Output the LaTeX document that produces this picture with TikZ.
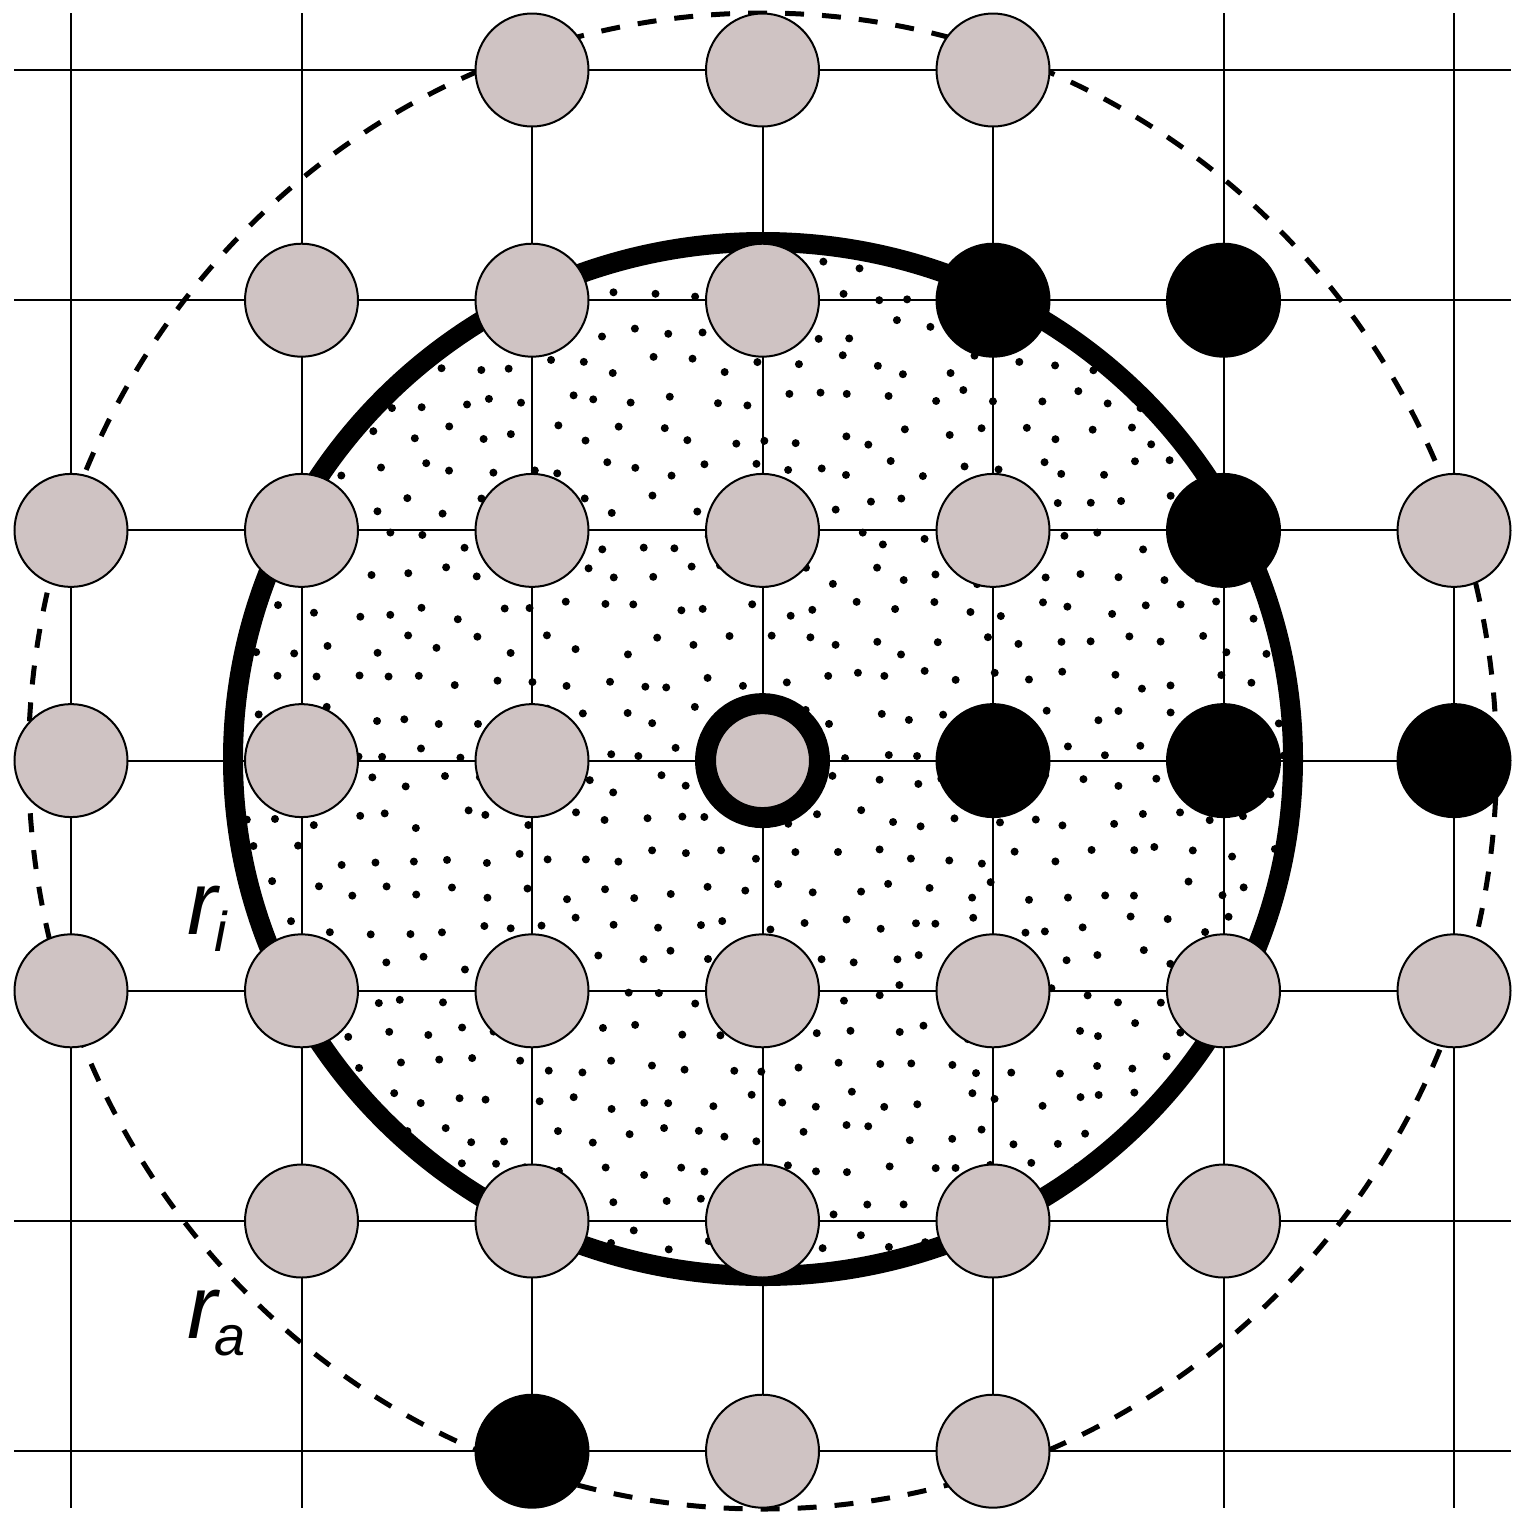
\documentclass[tikz,border=0pt]{standalone}
\usepackage{fontspec}
\setmainfont{Liberation Sans}
\definecolor{nodegray}{RGB}{207,195,195}
\begin{document}
\begin{tikzpicture}[x=1pt,y=-1pt,
  gridline/.style={line width=2pt,black},
  site/.style={circle,draw=black,line width=2pt,fill=nodegray,minimum size=113pt,inner sep=0pt},
  occ/.style={circle,draw=black,line width=2pt,fill=black,minimum size=113pt,inner sep=0pt},
  focal/.style={circle,draw=black,line width=21pt,fill=nodegray,minimum size=114pt,inner sep=0pt},
  inner ring/.style={line width=20pt,black},
  outer ring/.style={line width=5pt,black,dash pattern=on 19pt off 18pt},
  dot/.style={fill=black},
  lab/.style={anchor=base west,inner sep=0pt}]
\useasboundingbox (0,0) rectangle (1518,1513);
% stipple inside the inner circle
\begin{scope}
  \clip (763,759) ellipse [x radius=524, y radius=511];
  \pgfmathsetseed{4711}
  \foreach \i in {0,...,30}{
    \foreach \j in {0,...,30}{
      \pgfmathsetmacro{\dx}{rand*10}
      \pgfmathsetmacro{\dy}{rand*10}
      \fill[dot] ({225+\i*36+mod(\j,2)*18+\dx},{225+\j*35+\dy}) circle (4);
    }
  }
\end{scope}
% lattice
\foreach \i in {0,...,6}{
  \draw[gridline] ({71+230.5*\i},13) -- ({71+230.5*\i},1508);
  \draw[gridline] (14,{70+230.2*\i}) -- (1511,{70+230.2*\i});
}
% radii
\draw[inner ring] (763,759) ellipse [x radius=530, y radius=517];
\draw[outer ring] (762.5,761) ellipse [x radius=734, y radius=748];
% sites
\foreach \i/\j in {2/0,3/0,4/0,1/1,2/1,3/1,0/2,1/2,2/2,3/2,4/2,6/2,0/3,1/3,2/3,
  0/4,1/4,2/4,3/4,4/4,5/4,6/4,1/5,2/5,3/5,4/5,5/5,3/6,4/6}{
  \node[site] (s\i\j) at ({71+230.5*\i},{70+230.2*\j}) {};
}
\foreach \i/\j in {4/1,5/1,5/2,4/3,5/3,6/3,2/6}{
  \node[occ] (s\i\j) at ({71+230.5*\i},{70+230.2*\j}) {};
}
\node[focal] (s33) at ({71+230.5*3},{70+230.2*3}) {};
% labels
\node[lab] (ri) at (187,934) {\fontsize{90}{90}\selectfont\itshape r\kern-3pt\raisebox{-17pt}{\fontsize{56}{56}\selectfont i}};
\node[lab] (ra) at (187,1338) {\fontsize{90}{90}\selectfont\itshape r\kern-3pt\raisebox{-17pt}{\fontsize{56}{56}\selectfont a}};
\end{tikzpicture}
\end{document}
